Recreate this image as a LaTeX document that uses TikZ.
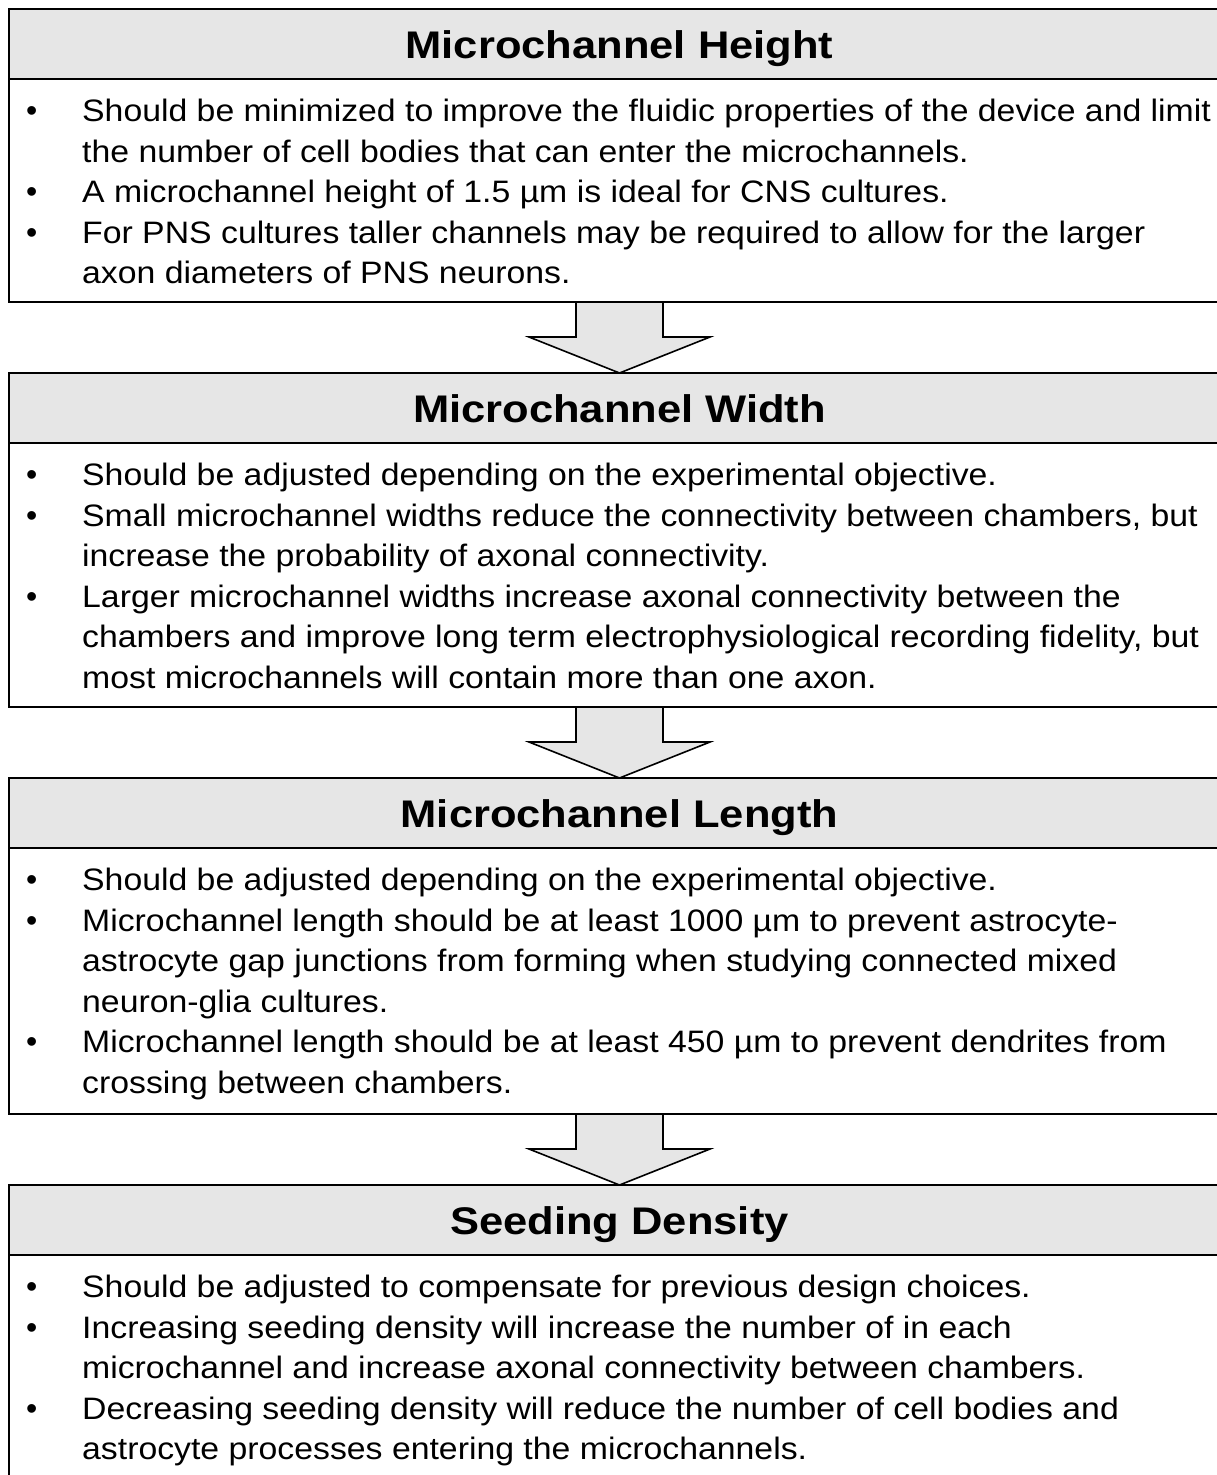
\documentclass[tikz,border=0pt]{standalone}
\usepackage{fontspec}
\setmainfont{Liberation Sans}
\newfontfamily\bodyfnt[FakeStretch=1.09]{Liberation Sans}
\newfontfamily\hdrfnt[FakeStretch=1.13]{Liberation Sans}
\usetikzlibrary{calc}
\definecolor{hdrgray}{HTML}{E6E6E6}
\tikzset{
  boxline/.style={draw=black, line width=1.6pt},
  hdrfill/.style={fill=hdrgray},
  hdrtext/.style={anchor=base, inner sep=0pt, font=\hdrfnt\fontsize{38.5}{44}\selectfont\bfseries},
  bodytext/.style={anchor=base west, inner sep=0pt, font=\bodyfnt\fontsize{31}{40}\selectfont},
  bul/.style={anchor=base west, inner sep=0pt, font=\fontsize{32}{40}\selectfont},
  downarrow/.style={draw=black, line width=1.6pt, fill=hdrgray, line join=miter},
}
\begin{document}
\begin{tikzpicture}[x=1pt,y=-1pt]
\useasboundingbox (0,0) rectangle (1217,1475);
\clip (0,0) rectangle (1217,1475);
% ---- Box 1
\path[hdrfill] (9,9) rectangle (1230,79);
\draw[boxline] (9,9) rectangle (1230,302);
\draw[boxline] (9,79) -- (1230,79);
\node[hdrtext] (h1) at (619.5,58) {Microchannel Height};
\node[bul] (b1a) at (26,121.5) {•};
\node[bodytext] (t1a) at (82,121.5) {Should be minimized to improve the fluidic properties of the device and limit};
\node[bodytext] (t1b) at (82,162.1) {the number of cell bodies that can enter the microchannels.};
\node[bul] (b1b) at (26,202.7) {•};
\node[bodytext] (t1c) at (82,202.7) {A microchannel height of 1.5 µm is ideal for CNS cultures.};
\node[bul] (b1c) at (26,243.3) {•};
\node[bodytext] (t1d) at (82,243.3) {For PNS cultures taller channels may be required to allow for the larger};
\node[bodytext] (t1e) at (82,283.9) {axon diameters of PNS neurons.};
% ---- Arrow 1
\draw[downarrow] (576,302) -- (663,302) -- (663,337) -- (710,337) -- (619.5,373) -- (529,337) -- (576,337) -- cycle;
% ---- Box 2
\path[hdrfill] (9,373) rectangle (1230,443);
\draw[boxline] (9,373) rectangle (1230,707);
\draw[boxline] (9,443) -- (1230,443);
\node[hdrtext] (h2) at (619.5,422) {Microchannel Width};
\node[bul] (b2a) at (26,485.5) {•};
\node[bodytext] (t2a) at (82,485.5) {Should be adjusted depending on the experimental objective.};
\node[bul] (b2b) at (26,526.1) {•};
\node[bodytext] (t2b) at (82,526.1) {Small microchannel widths reduce the connectivity between chambers, but};
\node[bodytext] (t2c) at (82,566.7) {increase the probability of axonal connectivity.};
\node[bul] (b2c) at (26,607.3) {•};
\node[bodytext] (t2d) at (82,607.3) {Larger microchannel widths increase axonal connectivity between the};
\node[bodytext] (t2e) at (82,647.9) {chambers and improve long term electrophysiological recording fidelity, but};
\node[bodytext] (t2f) at (82,688.5) {most microchannels will contain more than one axon.};
% ---- Arrow 2
\draw[downarrow] (576,707) -- (663,707) -- (663,742) -- (710,742) -- (619.5,778) -- (529,742) -- (576,742) -- cycle;
% ---- Box 3
\path[hdrfill] (9,778) rectangle (1230,848);
\draw[boxline] (9,778) rectangle (1230,1114);
\draw[boxline] (9,848) -- (1230,848);
\node[hdrtext] (h3) at (619.5,827) {Microchannel Length};
\node[bul] (b3a) at (26,890.5) {•};
\node[bodytext] (t3a) at (82,890.5) {Should be adjusted depending on the experimental objective.};
\node[bul] (b3b) at (26,931.1) {•};
\node[bodytext] (t3b) at (82,931.1) {Microchannel length should be at least 1000 µm to prevent astrocyte-};
\node[bodytext] (t3c) at (82,971.7) {astrocyte gap junctions from forming when studying connected mixed};
\node[bodytext] (t3d) at (82,1012.3) {neuron-glia cultures.};
\node[bul] (b3c) at (26,1052.9) {•};
\node[bodytext] (t3e) at (82,1052.9) {Microchannel length should be at least 450 µm to prevent dendrites from};
\node[bodytext] (t3f) at (82,1093.5) {crossing between chambers.};
% ---- Arrow 3
\draw[downarrow] (576,1114) -- (663,1114) -- (663,1149) -- (710,1149) -- (619.5,1185) -- (529,1149) -- (576,1149) -- cycle;
% ---- Box 4
\path[hdrfill] (9,1185) rectangle (1230,1255);
\draw[boxline] (9,1185) rectangle (1230,1490);
\draw[boxline] (9,1255) -- (1230,1255);
\node[hdrtext] (h4) at (619.5,1234) {Seeding Density};
\node[bul] (b4a) at (26,1297.5) {•};
\node[bodytext] (t4a) at (82,1297.5) {Should be adjusted to compensate for previous design choices.};
\node[bul] (b4b) at (26,1338.1) {•};
\node[bodytext] (t4b) at (82,1338.1) {Increasing seeding density will increase the number of in each};
\node[bodytext] (t4c) at (82,1378.7) {microchannel and increase axonal connectivity between chambers.};
\node[bul] (b4c) at (26,1419.3) {•};
\node[bodytext] (t4d) at (82,1419.3) {Decreasing seeding density will reduce the number of cell bodies and};
\node[bodytext] (t4e) at (82,1459.9) {astrocyte processes entering the microchannels.};
\end{tikzpicture}
\end{document}
